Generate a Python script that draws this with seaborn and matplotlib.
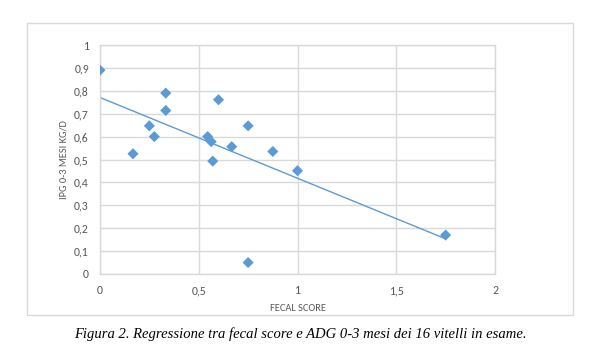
import numpy as np
import pandas as pd
import matplotlib
matplotlib.use("Agg")
import matplotlib.pyplot as plt
from matplotlib.patches import Rectangle
from matplotlib.ticker import FuncFormatter
import seaborn as sns

# data
fecal_score = [0.0, 0.167, 0.25, 0.275, 0.333, 0.333, 0.545, 0.563, 0.571,
               0.6, 0.667, 0.75, 0.75, 0.875, 1.0, 1.75]
ipg = [0.89, 0.525, 0.647, 0.6, 0.79, 0.714, 0.6, 0.578, 0.493,
       0.761, 0.556, 0.647, 0.05, 0.535, 0.451, 0.17]
x_ticks = [0, 0.5, 1, 1.5, 2]
y_ticks = [0, 0.1, 0.2, 0.3, 0.4, 0.5, 0.6, 0.7, 0.8, 0.9, 1.0]

df = pd.DataFrame({"fecal": fecal_score, "ipg": ipg})

sns.set_style("white")
plt.rcParams['font.family'] = ['Carlito', 'Liberation Sans', 'DejaVu Sans']

blue = "#5b9bd5"
grey_txt = "#595959"
grid_c = "#d9d9d9"

fig = plt.figure(figsize=(5.97, 3.51), dpi=100)
W, H = 597, 351
ax = fig.add_axes([100 / W, 1 - 274 / H, (495 - 100) / W, (274 - 45) / H])

sns.regplot(data=df, x="fecal", y="ipg", ci=None, marker="D", ax=ax,
            scatter_kws={"s": 32, "color": blue, "alpha": 1, "edgecolor": "none", "zorder": 3},
            line_kws={"color": blue, "lw": 1.0, "zorder": 2})

ax.set_xlim(0, 2)
ax.set_ylim(0, 1)
ax.set_xticks(x_ticks)
ax.set_yticks(y_ticks)
fmt = FuncFormatter(lambda v, p: ("%g" % round(v, 2)).replace(".", ","))
ax.xaxis.set_major_formatter(fmt)
ax.yaxis.set_major_formatter(fmt)
ax.tick_params(length=0, labelsize=8.5, colors=grey_txt, pad=8)
ax.grid(True, color=grid_c, lw=1.0)
ax.set_axisbelow(True)
for s in ax.spines.values():
    s.set_color(grid_c)
    s.set_linewidth(1.0)

ax.set_xlabel("FECAL SCORE", fontsize=7.5, color=grey_txt, labelpad=6)
ax.set_ylabel("IPG 0-3 MESI KG/D", fontsize=7.5, color=grey_txt, labelpad=4)

# outer chart frame
fig.patches.append(Rectangle((27 / W, 1 - 315 / H), (573 - 27) / W, (315 - 23) / H,
                             transform=fig.transFigure, fill=False,
                             edgecolor=grid_c, lw=1.0))

fig.text(300 / W, 1 - 334 / H,
         "Figura 2. Regressione tra fecal score e ADG 0-3 mesi dei 16 vitelli in esame.",
         ha="center", va="center", fontsize=10.5, style="italic",
         family=["Liberation Serif", "DejaVu Serif"], color="black")

fig.savefig("out.png", dpi=100)
